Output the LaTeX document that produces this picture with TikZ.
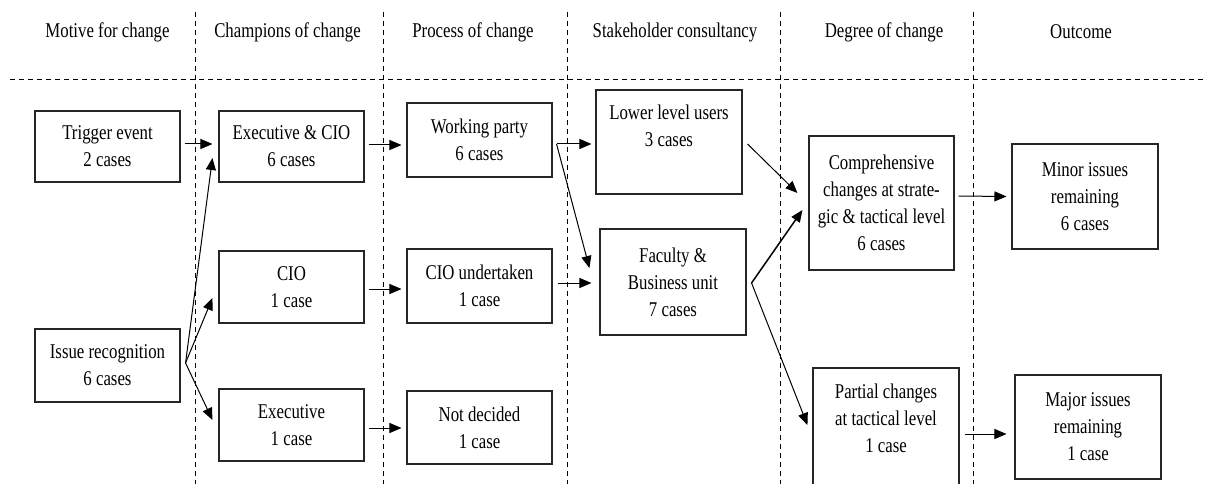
\documentclass[tikz,border=0pt]{standalone}
\usepackage{fontspec}
\newfontfamily\reffont[FakeStretch=0.8]{Liberation Serif}
\usetikzlibrary{arrows.meta}
\begin{document}
\begin{tikzpicture}[x=1pt,y=-1pt,
  box/.style={draw=black!85, line width=1.1pt, rectangle, inner sep=0pt,
              font=\reffont\fontsize{21}{27}\selectfont, align=center},
  txt/.style={font=\reffont\fontsize{21}{27}\selectfont, align=center, inner sep=0pt},
  sep/.style={dash pattern=on 5pt off 4pt, line width=1pt},
  arr/.style={-{Triangle[length=12pt,width=10pt]}, line width=1pt},
]
\useasboundingbox (0,0) rectangle (1205,484);
\clip (0,0) rectangle (1205,484);
\fill[white] (0,0) rectangle (1205,484);

% separators
\draw[sep] (10,80) -- (1205,80);
\foreach \x in {195,383,567,780,973} \draw[sep] (\x,12) -- (\x,484);

% headers
\node[txt] (h1) at (107.5,32) {Motive for change};
\node[txt] (h2) at (287.5,32) {Champions of change};
\node[txt] (h3) at (473,32) {Process of change};
\node[txt] (h4) at (675,32) {Stakeholder consultancy};
\node[txt] (h5) at (884,32) {Degree of change};
\node[txt] (h6) at (1081,32) {Outcome};

% boxes
\node[box, minimum width=145pt, minimum height=71pt] (trigger) at (107.5,146.5) {Trigger event\\2 cases};
\node[box, minimum width=145pt, minimum height=73pt] (issue) at (107.5,365.5) {Issue recognition\\6 cases};
\node[box, minimum width=145pt, minimum height=71pt] (execcio) at (291.5,146.5) {Executive \& CIO\\6 cases};
\node[box, minimum width=145pt, minimum height=72pt] (cio) at (291.5,287) {CIO\\1 case};
\node[box, minimum width=145pt, minimum height=72pt] (exec) at (291.5,425) {Executive\\1 case};
\node[box, minimum width=145pt, minimum height=74pt] (working) at (479.5,140) {Working party\\6 cases};
\node[box, minimum width=145pt, minimum height=74pt] (cioun) at (479.5,286) {CIO undertaken\\1 case};
\node[box, minimum width=145pt, minimum height=73pt] (notdec) at (479.5,427.5) {Not decided\\1 case};
\node[box, minimum width=146pt, minimum height=104pt] (lower) at (669,142) {};
\node[txt] (lowert) at (669,126) {Lower level users\\3 cases};
\node[box, minimum width=146pt, minimum height=106pt] (faculty) at (673,282) {Faculty \&\\Business unit\\7 cases};
\node[box, minimum width=145pt, minimum height=134pt] (compr) at (881.5,203) {Comprehensive\\changes at strate-\\gic \& tactical level\\6 cases};
\node[box, minimum width=146pt, minimum height=152pt] (partial) at (886,444) {};
\node[txt] (partialt) at (886,418) {Partial changes\\at tactical level\\1 case};
\node[box, minimum width=146pt, minimum height=105pt] (minor) at (1085,196.5) {Minor issues\\remaining\\6 cases};
\node[box, minimum width=146pt, minimum height=104pt] (major) at (1088,427) {Major issues\\remaining\\1 case};

% connectors
\draw[arr] ([shift={(4,-2.5)}]trigger.east) -- ([shift={(-6,-2.5)}]execcio.west);
\coordinate (io) at ([shift={(5,-2.5)}]issue.east);
\draw[arr] (io) -- ([shift={(-6,11.5)}]execcio.west);
\draw[arr] (io) -- ([shift={(-6,11)}]cio.west);
\draw[arr] (io) -- ([shift={(-6,-5)}]exec.west);

\draw[arr] ([shift={(4,-1.5)}]execcio.east) -- ([shift={(-5,5)}]working.west);
\draw[arr] ([shift={(4,2)}]cio.east) -- ([shift={(-5,3)}]cioun.west);
\draw[arr] ([shift={(4,3)}]exec.east) -- ([shift={(-5,0.5)}]notdec.west);

\coordinate (wo) at ([shift={(4,4)}]working.east);
\draw[arr] (wo) -- ([shift={(-4,2)}]lower.west);
\draw[arr] (wo) -- ([shift={(-10,-14)}]faculty.west);
\draw[arr] ([shift={(5,-3)}]cioun.east) -- ([shift={(-8,1)}]faculty.west);

\draw[arr] ([shift={(5,2)}]lower.east) -- ([shift={(-11,-10)}]compr.west);
\coordinate (fo) at ([shift={(5,1)}]faculty.east);
\draw[arr, line width=1.5pt] (fo) -- ([shift={(-6,7)}]compr.west);
\draw[arr] (fo) -- ([shift={(-5,-19)}]partial.west);

\draw[arr] ([shift={(4,-7)}]compr.east) -- ([shift={(-5,0)}]minor.west);
\draw[arr] ([shift={(5,-10)}]partial.east) -- ([shift={(-8,7)}]major.west);
\end{tikzpicture}
\end{document}
